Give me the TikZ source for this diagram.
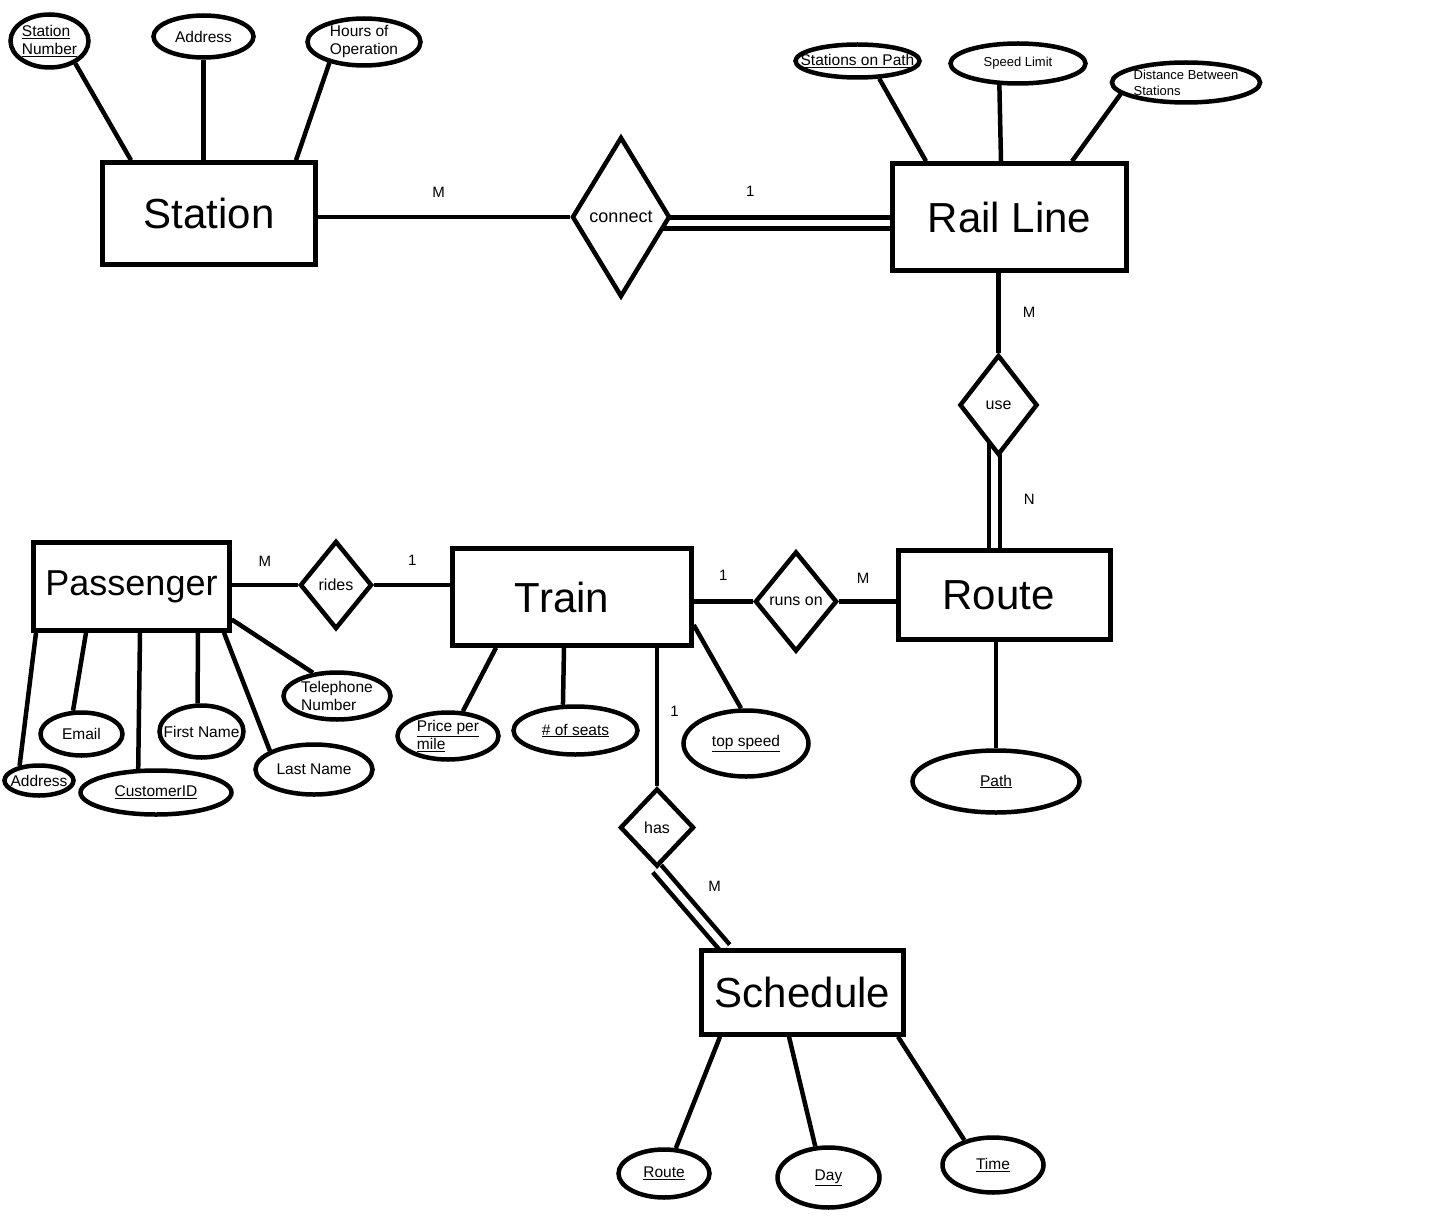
\documentclass[tikz,border=0pt]{standalone}
\usepackage{fontspec}
\setmainfont{Liberation Sans}
\usetikzlibrary{shapes.geometric,backgrounds}
\newcommand{\zerow}[1]{\makebox[0pt]{#1}}

\begin{document}
\begin{tikzpicture}[x=1pt, y=-1pt, line width=4.5pt,
    entity/.style = {draw, rectangle, fill=white, inner sep=0pt, font=\fontsize{42}{48}\selectfont},
    rel/.style = {draw, diamond, fill=white, inner sep=0pt, font=\fontsize{16}{19}\selectfont},
    attr/.style = {draw, ellipse, fill=white, inner sep=0pt, align=left, font=\fontsize{15.5}{18}\selectfont},
    card/.style = {inner sep=0pt, font=\fontsize{15}{18}\selectfont},
    total/.style = {double, double distance=6.5pt, line width=4.5pt}]
\useasboundingbox (0,0) rectangle (1448,1217);

% entities
\node[entity, minimum width=213pt, minimum height=102pt] (station) at (209,213.5) {Station};
\node[entity, minimum width=234pt, minimum height=107pt] (rail) at (1009.5,217) {Rail Line};
\node[entity, minimum width=196pt, minimum height=88pt, font=\fontsize{36}{42}\selectfont] (passenger) at (131.5,586.5) {Passenger};
\node[entity, minimum width=239pt, minimum height=97pt] (train) at (572,597) {Train\hspace*{20pt}};
\node[entity, minimum width=212pt, minimum height=89pt] (route) at (1004.5,595) {Route\hspace*{12pt}};
\node[entity, minimum width=202pt, minimum height=84pt] (schedule) at (802.5,992.5) {Schedule};

% relationships
\node[rel, minimum width=98pt, minimum height=160pt, font=\fontsize{18}{21}\selectfont] (connect) at (621,217) {connect};
\node[rel, minimum width=78pt, minimum height=100pt] (use) at (998.5,405) {use};
\node[rel, minimum width=72pt, minimum height=88pt] (rides) at (336,585) {rides};
\node[rel, minimum width=82pt, minimum height=100pt] (runson) at (796,601.5) {runs on};
\node[rel, minimum width=74pt, minimum height=78pt] (has) at (657,827.5) {has};

% attributes
\node[attr, minimum width=78pt, minimum height=53pt] (snum) at (49.5,41) {\underline{Station}\\\underline{Number}};
\node[attr, minimum width=100pt, minimum height=42pt] (saddr) at (203.5,36.5) {Address};
\node[attr, minimum width=113pt, minimum height=47pt] (hours) at (364,42) {Hours of\\Operation};
\node[attr, minimum width=124pt, minimum height=33pt] (onpath) at (857.5,61) {\zerow{\underline{Stations on Path}}};
\node[attr, minimum width=135pt, minimum height=40pt, font=\fontsize{13}{16}\selectfont] (speed) at (1018,63.5) {Speed Limit};
\node[attr, minimum width=147pt, minimum height=40pt, font=\fontsize{13}{16}\selectfont] (dist) at (1186,82.5) {Distance Between\\Stations};

\node[attr, minimum width=82pt, minimum height=43pt] (email) at (81.5,734) {Email};
\node[attr, minimum width=69pt, minimum height=30pt] (paddr) at (39,780.5) {\zerow{Address}};
\node[attr, minimum width=151pt, minimum height=44pt] (cid) at (156,792.5) {\underline{CustomerID}};
\node[attr, minimum width=84pt, minimum height=52pt] (fname) at (201.5,731.5) {\zerow{First Name}};
\node[attr, minimum width=117pt, minimum height=50pt] (lname) at (314,769.5) {Last Name};
\node[attr, minimum width=107pt, minimum height=47pt] (tel) at (337,696) {Telephone\\Number};

\node[attr, minimum width=101pt, minimum height=47pt] (price) at (448,736) {\underline{Price per}\\\underline{mile}};
\node[attr, minimum width=124pt, minimum height=48pt] (seats) at (575.5,730.5) {\underline{\# of seats}};
\node[attr, minimum width=125pt, minimum height=66pt] (tspeed) at (746,743.5) {\underline{top speed}};
\node[attr, minimum width=167pt, minimum height=62pt] (rpath) at (996,781.5) {\underline{Path}};

\node[attr, minimum width=91pt, minimum height=48pt] (sroute) at (664,1173.5) {\underline{Route}};
\node[attr, minimum width=102pt, minimum height=60pt] (sday) at (828.5,1177.5) {\underline{Day}};
\node[attr, minimum width=101pt, minimum height=55pt] (stime) at (993,1165) {\underline{Time}};

\begin{scope}[on background layer={line width=4.5pt}]
% station
\draw ([xshift=-78pt]station.north) -- (snum.-41);
\draw (station.north -| saddr.south) -- (saddr.south);
\draw ([xshift=87pt]station.north) -- (hours.211);
\draw (station.east |- connect.west) -- node[card, above=17pt, pos=.48] {M} (connect.west);
\draw[total] ([yshift=-6pt]connect.center) -- node[card, above=24pt, pos=.48] {1} ([yshift=-6pt]rail.west);
% rail line
\draw ([xshift=-83.5pt]rail.north) -- (onpath.-39);
\draw ([xshift=-8.5pt]rail.north) -- (speed.-131);
\draw ([xshift=62.5pt]rail.north) -- (dist.-170);
\draw (rail.south -| use.north) -- node[card, right=22pt] {M} (use.north);
\draw[total] ([xshift=-4pt]use.center) -- node[card, right=27pt, pos=.66] {N} ([xshift=-10pt]route.north);
% passenger
\draw ([xshift=-95.5pt]passenger.south) -- (paddr.143);
\draw ([xshift=-45.5pt]passenger.south) -- (email.110);
\draw ([xshift=8.5pt]passenger.south) -- (cid.127);
\draw ([xshift=66.5pt]passenger.south) -- (fname.98);
\draw ([xshift=92.5pt]passenger.south) -- (lname.157);
\draw ([yshift=-33pt]passenger.east) -- (tel.136);
\draw (passenger.east |- rides.west) -- node[card, above=16pt] {M} (rides.west);
\draw (rides.east) -- node[card, above=17pt] {1} (rides.east -| train.west);
% train
\draw (train.east |- runson.west) -- node[card, above=19pt] {1} (runson.west);
\draw (runson.east) -- node[card, above=15.5pt, pos=.42] {M} (runson.east -| route.west);
\draw ([xshift=-76pt]train.south) -- (price.59);
\draw ([xshift=-8pt]train.south) -- (seats.116);
\draw ([yshift=-28pt]train.east) -- (tspeed.98);
\draw (train.south -| has.north) -- node[card, right=11pt, pos=.46] {1} (has.north);
\draw (route.south -| rpath.north) -- (rpath.north);
% schedule
\draw[total] (has.south) -- node[card, right=34pt, pos=.22] {M} ([xshift=-77pt]schedule.north);
\draw ([xshift=-82.5pt]schedule.south) -- (sroute.65);
\draw ([xshift=-13.5pt]schedule.south) -- (sday.113);
\draw ([xshift=95.5pt]schedule.south) -- (stime.139);
\end{scope}
\end{tikzpicture}
\end{document}
